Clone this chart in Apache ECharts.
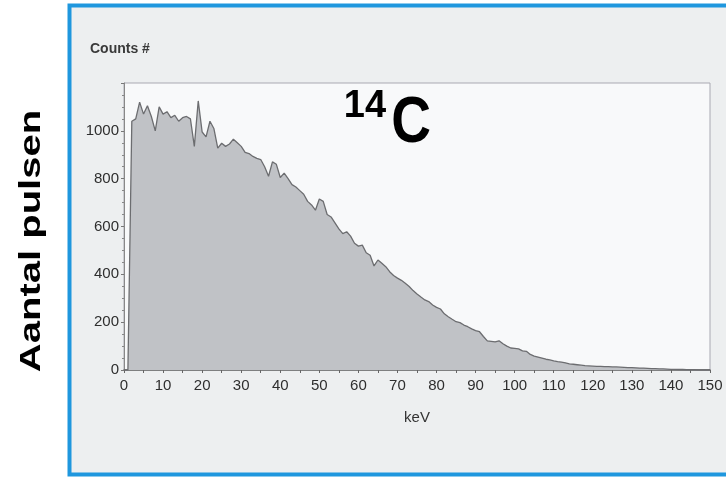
<!DOCTYPE html>
<html>
<head>
<meta charset="utf-8">
<script src="https://cdn.jsdelivr.net/npm/echarts@6/dist/echarts.min.js"></script>
<style>
html,body{margin:0;padding:0;background:#ffffff;}
#chart{width:726px;height:478px;}
</style>
</head>
<body>
<div id="chart"></div>
<script>
// Counts per 1 keV bin, starting at 0 keV
const counts = [
  0, 0, 1040, 1050, 1120, 1070, 1105, 1060, 1000, 1100,
  1070, 1080, 1055, 1065, 1040, 1055, 1060, 1050, 935, 1125,
  995, 975, 1040, 1010, 928, 948, 935, 945, 965, 950,
  935, 910, 905, 893, 885, 880, 850, 810, 870, 860,
  805, 823, 800, 775, 765, 750, 735, 705, 690, 668,
  715, 705, 650, 640, 615, 590, 570, 578, 560, 530,
  518, 522, 490, 480, 435, 460, 446, 432, 411, 395,
  384, 375, 363, 349, 332, 318, 305, 293, 286, 272,
  262, 255, 235, 223, 212, 202, 198, 188, 181, 172,
  165, 160, 140, 122, 120, 118, 122, 110, 100, 92,
  90, 88, 80, 78, 65, 58, 54, 50, 45, 42,
  38, 35, 33, 30, 26, 24, 22, 20, 18, 17,
  16, 15, 15, 14, 14, 13, 13, 12, 11, 10,
  10, 9, 8, 8, 7, 6, 6, 5, 5, 4,
  3, 3, 2, 2, 1, 1, 1, 0, 0, 0,
  0
];
const binWidthKeV = 1;
const xTicks = [0, 10, 20, 30, 40, 50, 60, 70, 80, 90, 100, 110, 120, 130, 140, 150];
const yTicks = [0, 200, 400, 600, 800, 1000];
const yMax = 1200;

const seriesData = counts.map((c, i) => [i * binWidthKeV, c]);
const FONT = '"Liberation Sans", Arial, sans-serif';

const chart = echarts.init(document.getElementById('chart'), null, {renderer: 'canvas'});
chart.setOption({
  animation: false,
  backgroundColor: '#ffffff',
  grid: {
    left: 124, top: 83, right: 16, bottom: 108,
    show: true, backgroundColor: '#f8f9fa', borderColor: '#a9a9b2', borderWidth: 1
  },
  graphic: [
    {
      type: 'rect', z: -10, silent: true,
      shape: {x: 69.5, y: 5.5, width: 720, height: 469},
      style: {fill: '#edeff0', stroke: '#1f97de', lineWidth: 4}
    },
    {
      type: 'text', x: 90, y: 49,
      style: {text: 'Counts #', font: 'bold 14px ' + FONT, fill: '#3a3a3a', textVerticalAlign: 'middle'}
    },
    {
      type: 'text', x: 32, y: 241, rotation: Math.PI / 2, scaleX: 1.38,
      style: {text: 'Aantal pulsen', font: 'bold 29px ' + FONT, fill: '#000', textAlign: 'center', textVerticalAlign: 'middle'}
    },
    {
      type: 'text', x: 365, y: 107,
      style: {text: '14', font: 'bold 38px ' + FONT, fill: '#000', textAlign: 'center', textVerticalAlign: 'middle'}
    },
    {
      type: 'text', x: 411, y: 124, scaleX: 0.86,
      style: {text: 'C', font: 'bold 64px ' + FONT, fill: '#000', textAlign: 'center', textVerticalAlign: 'middle'}
    }
  ],
  xAxis: {
    type: 'value', min: xTicks[0], max: xTicks[xTicks.length - 1], interval: 10,
    name: 'keV', nameLocation: 'middle', nameGap: 40,
    nameTextStyle: {color: '#333', fontSize: 15, fontFamily: FONT},
    axisLine: {show: true, lineStyle: {color: '#666', width: 1.5}},
    axisTick: {show: true, length: 3, lineStyle: {color: '#666'}},
    minorTick: {show: true, splitNumber: 2, length: 3, lineStyle: {color: '#666'}},
    axisLabel: {color: '#2e2e2e', fontSize: 15, margin: 8, fontFamily: FONT,
      formatter: v => xTicks.includes(v) ? String(v) : ''},
    splitLine: {show: false}
  },
  yAxis: {
    type: 'value', min: 0, max: yMax, interval: 200,
    axisLine: {show: true, lineStyle: {color: '#888', width: 1}},
    axisTick: {show: true, length: 3, lineStyle: {color: '#777'}},
    minorTick: {show: true, splitNumber: 4, length: 2, lineStyle: {color: '#888'}},
    axisLabel: {color: '#2e2e2e', fontSize: 15, margin: 5, fontFamily: FONT,
      formatter: v => yTicks.includes(v) ? String(v) : ''},
    splitLine: {show: false}
  },
  series: [{
    type: 'line',
    data: seriesData,
    showSymbol: false,
    sampling: 'none',
    lineStyle: {color: '#6c6d70', width: 1.3},
    areaStyle: {color: '#c0c2c6', opacity: 1}
  }]
});
</script>
</body>
</html>
